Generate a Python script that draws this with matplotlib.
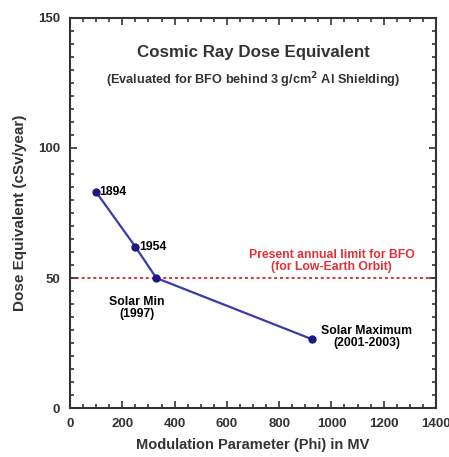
import matplotlib.pyplot as plt
from matplotlib.ticker import MultipleLocator

plt.rcParams['font.family'] = ['Liberation Sans', 'DejaVu Sans']
plt.rcParams['font.weight'] = 'bold'
plt.rcParams['axes.labelweight'] = 'bold'

# dose equivalent vs. solar modulation parameter
phi     = [100, 250, 330, 925]
dose    = [83, 62, 50, 26.5]
limit   = 50
labels  = ['1894', '1954', 'Solar Min\n(1997)', 'Solar Maximum\n(2001-2003)']

fig = plt.figure(figsize=(4.49, 4.57), dpi=100)
ax = fig.add_axes([0.156, 0.107, 0.815, 0.854])

ax.axhline(limit, color='#e0303a', linestyle=(0, (1.5, 1.5)), lw=1.4, zorder=1)
ax.plot(phi, dose, color='#3a3aa8', lw=1.6, marker='o', markersize=5,
        markerfacecolor='#1a1a80', markeredgecolor='#1a1a80', zorder=3)

fs = 8.8
ax.text(phi[0] + 10, dose[0], labels[0], fontsize=fs, va='center', ha='left')
ax.text(phi[1] + 15, dose[1], labels[1], fontsize=fs, va='center', ha='left')
ax.text(phi[2] - 73, dose[2] - 11.5, labels[2], fontsize=fs, va='center', ha='center',
        linespacing=1.05)
ax.text(phi[3] + 211, dose[3] + 0.8, labels[3], fontsize=fs, va='center', ha='center',
        linespacing=1.05)
ax.text(1000, 56.5, 'Present annual limit for BFO\n(for Low-Earth Orbit)', color='#e0303a',
        fontsize=fs, va='center', ha='center', linespacing=1.05)

ax.text(0.5, 0.91, 'Cosmic Ray Dose Equivalent', transform=ax.transAxes,
        fontsize=12.2, ha='center', va='center', color='#333333')
ax.text(0.5, 0.841, '(Evaluated for BFO behind 3 g/cm$^\\mathbf{2}$ Al Shielding)',
        transform=ax.transAxes, fontsize=9.2, ha='center', va='center', color='#333333')

ax.set_xlim(0, 1400)
ax.set_ylim(0, 150)
ax.xaxis.set_major_locator(MultipleLocator(200))
ax.xaxis.set_minor_locator(MultipleLocator(50))
ax.yaxis.set_major_locator(MultipleLocator(50))
ax.yaxis.set_minor_locator(MultipleLocator(5))
ax.tick_params(which='both', direction='in', top=True, right=True, width=1.2,
               labelsize=9.5, colors='#333333', pad=7)
ax.tick_params(which='major', length=5)
ax.tick_params(which='minor', length=3)
for s in ax.spines.values():
    s.set_linewidth(1.5)
    s.set_color('#333333')

ax.set_xlabel('Modulation Parameter (Phi) in MV', fontsize=10.5, color='#333333', labelpad=6)
ax.set_ylabel('Dose Equivalent (cSv/year)', fontsize=11, color='#333333', labelpad=8)

fig.savefig('out.png', dpi=100)
